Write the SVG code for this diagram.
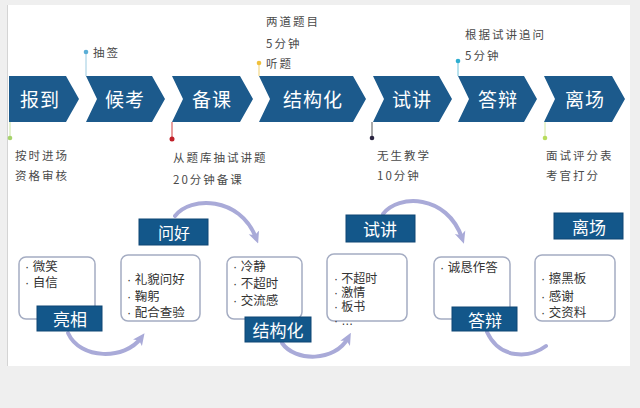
<svg xmlns="http://www.w3.org/2000/svg" width="640" height="408" viewBox="0 0 640 408">
<defs>
<style>
.chev{fill:#1c5a8c}
.ct{fill:#fff;font-family:"Noto Sans CJK SC",sans-serif;font-size:19px;text-anchor:middle;dominant-baseline:central;letter-spacing:1px}
.ann{fill:#4a4a4a;font-family:"Noto Sans CJK SC",sans-serif;font-size:11.5px;letter-spacing:2px;dominant-baseline:central}
.box{fill:#fff;stroke:#a4acc2;stroke-width:1.5}
.bt{fill:#333;font-family:"Liberation Sans","Noto Sans CJK SC",sans-serif;font-size:12.5px;dominant-baseline:central}
.bs{font-size:12px}
.lab{fill:#13578a;stroke:#0e4674;stroke-width:1}
.lt{fill:#fff;font-family:"Noto Sans CJK SC",sans-serif;font-size:17px;text-anchor:middle;dominant-baseline:central}
.arc{fill:none;stroke:#a9aad8;stroke-width:4;stroke-linecap:round}
</style>
<marker id="ah" markerUnits="userSpaceOnUse" markerWidth="12" markerHeight="12" refX="6" refY="6" orient="auto">
<path d="M0,0.5 L12,6 L0,11.5 L3,6 Z" fill="#a9aad8"/>
</marker>
</defs>
<rect x="0" y="0" width="640" height="408" fill="#efefef"/>
<rect x="8" y="5" width="622" height="361" fill="#fff"/>
<line x1="7.5" y1="5" x2="7.5" y2="366" stroke="#d4d4d4" stroke-width="1"/>

<g id="connectors">
<line x1="86" y1="52" x2="86" y2="76" stroke="#9ccbe0" stroke-width="1"/>
<circle cx="86" cy="52" r="2.3" fill="#5aaed6"/>
<line x1="10" y1="122" x2="10" y2="138" stroke="#c8e2a0" stroke-width="1"/>
<circle cx="10" cy="138" r="2.3" fill="#a6d36c"/>
<line x1="172" y1="122" x2="172" y2="139" stroke="#d24040" stroke-width="1"/>
<circle cx="172" cy="139" r="2.5" fill="#c01f28"/>
<line x1="259" y1="63" x2="259" y2="76" stroke="#f0d070" stroke-width="1"/>
<circle cx="259" cy="63" r="2.3" fill="#f0c03c"/>
<line x1="372" y1="122" x2="372" y2="138" stroke="#555" stroke-width="1"/>
<circle cx="372" cy="138" r="2.3" fill="#2a2440"/>
<line x1="458" y1="61" x2="458" y2="76" stroke="#70c4dc" stroke-width="1"/>
<circle cx="458" cy="61" r="2.3" fill="#2eaed0"/>
<line x1="545" y1="122" x2="545" y2="138" stroke="#d0e8a0" stroke-width="1"/>
<circle cx="545" cy="138" r="2.3" fill="#b8dc5c"/>

<path class="arc" d="M68,333 C80,360 125,360 141,338" marker-end="url(#ah)"/>
<path class="arc" d="M175,216 C190,196 240,196 256,238" marker-end="url(#ah)"/>
<path class="arc" d="M282,343 C295,362 335,362 348,338" marker-end="url(#ah)"/>
<path class="arc" d="M383,214 C398,194 447,194 462,238" marker-end="url(#ah)"/>
<path class="arc" d="M487,332 C500,360 530,358 546,346"/>
</g>

<g id="step-baodao">
<path class="chev" d="M9,76 H66 L79,99 L66,122 H9 Z"/>
<text class="ct" x="40" y="98">报到</text>
<text class="ann" x="15" y="155">按时进场</text>
<text class="ann" x="15" y="175">资格审核</text>
</g>
<g id="step-houkao">
<path class="chev" d="M86,76 H152 L165,99 L152,122 H86 L97,99 Z"/>
<text class="ct" x="125" y="98">候考</text>
<text class="ann" x="93" y="52">抽签</text>
</g>
<g id="step-beike">
<path class="chev" d="M172,76 H240 L253,99 L240,122 H172 L183,99 Z"/>
<text class="ct" x="212" y="98">备课</text>
<text class="ann" x="173" y="157">从题库抽试讲题</text>
<text class="ann" x="173" y="179">20分钟备课</text>
</g>
<g id="step-jiegouhua">
<path class="chev" d="M259,76 H353 L366,99 L353,122 H259 L270,99 Z"/>
<text class="ct" x="313" y="98">结构化</text>
<text class="ann" x="266" y="21">两道题目</text>
<text class="ann" x="266" y="43">5分钟</text>
<text class="ann" x="266" y="63">听题</text>
</g>
<g id="step-shijiang">
<path class="chev" d="M373,76 H439 L452,99 L439,122 H373 L384,99 Z"/>
<text class="ct" x="412" y="98">试讲</text>
<text class="ann" x="377" y="155">无生教学</text>
<text class="ann" x="377" y="175">10分钟</text>
</g>
<g id="step-dabian">
<path class="chev" d="M458,76 H524 L537,99 L524,122 H458 L469,99 Z"/>
<text class="ct" x="498" y="98">答辩</text>
<text class="ann" x="465" y="34">根据试讲追问</text>
<text class="ann" x="465" y="55">5分钟</text>
</g>
<g id="step-lichang">
<path class="chev" d="M544,76 H612 L625,99 L612,122 H544 L555,99 Z"/>
<text class="ct" x="585" y="98">离场</text>
<text class="ann" x="546" y="155">面试评分表</text>
<text class="ann" x="546" y="175">考官打分</text>
</g>

<g id="card-liangxiang">
<rect class="box" x="19" y="257" width="76" height="62" rx="7"/>
<text class="bt" x="25" y="267">· 微笑</text>
<text class="bt" x="25" y="283">· 自信</text>
<rect class="lab" x="37" y="306" width="65" height="25"/>
<text class="lt" x="70" y="318">亮相</text>
</g>
<g id="card-wenhao">
<rect class="box" x="121" y="255" width="79" height="66" rx="7"/>
<text class="bt" x="127" y="280">· 礼貌问好</text>
<text class="bt" x="127" y="297">· 鞠躬</text>
<text class="bt" x="127" y="313">· 配合查验</text>
<rect class="lab" x="139" y="219" width="69" height="26"/>
<text class="lt" x="174" y="232" style="font-size:16px">问好</text>
</g>
<g id="card-jiegouhua">
<rect class="box" x="227" y="257" width="75" height="62" rx="7"/>
<text class="bt" x="233" y="267">· 冷静</text>
<text class="bt" x="233" y="284">· 不超时</text>
<text class="bt" x="233" y="301">· 交流感</text>
<rect class="lab" x="245" y="317" width="66" height="25"/>
<text class="lt" x="278" y="329">结构化</text>
</g>
<g id="card-shijiang">
<rect class="box" x="327" y="254" width="80" height="67" rx="7"/>
<text class="bt bs" x="334" y="279">· 不超时</text>
<text class="bt bs" x="334" y="293">· 激情</text>
<text class="bt bs" x="334" y="307">· 板书</text>
<text class="bt bs" x="334" y="321">· …</text>
<rect class="lab" x="346" y="215" width="69" height="27"/>
<text class="lt" x="380" y="228">试讲</text>
</g>
<g id="card-dabian">
<rect class="box" x="434" y="257" width="76" height="62" rx="7"/>
<text class="bt" x="440" y="268">· 诚恳作答</text>
<rect class="lab" x="452" y="307" width="65" height="24"/>
<text class="lt" x="485" y="319">答辩</text>
</g>
<g id="card-lichang">
<rect class="box" x="535" y="255" width="80" height="66" rx="7"/>
<text class="bt" x="541" y="279">· 擦黑板</text>
<text class="bt" x="541" y="297">· 感谢</text>
<text class="bt" x="541" y="313">· 交资料</text>
<rect class="lab" x="554" y="213" width="69" height="26"/>
<text class="lt" x="589" y="226">离场</text>
</g>
</svg>
